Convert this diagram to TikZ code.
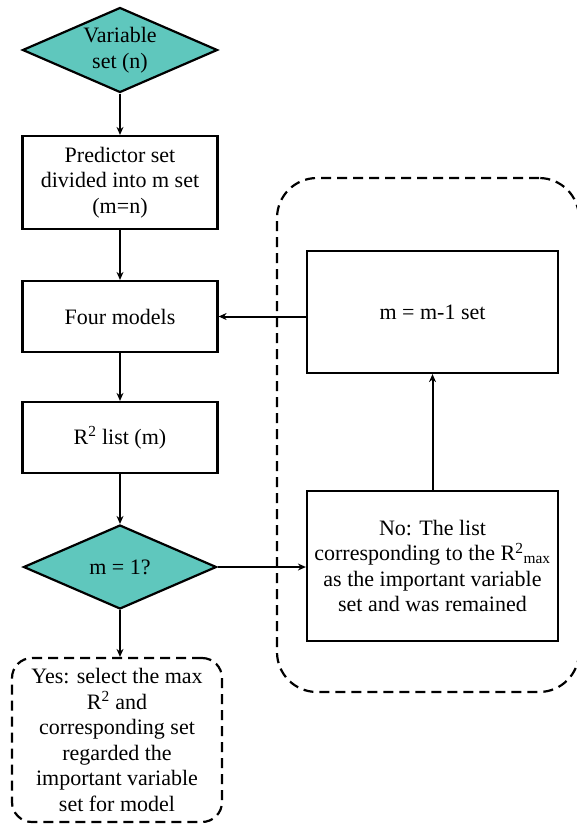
\documentclass[tikz,border=0pt]{standalone}
\usepackage{fontspec}
\setmainfont{Liberation Serif}
\usetikzlibrary{shapes.geometric,arrows.meta}
\definecolor{tealfill}{RGB}{95,199,189}
\begin{document}
\begin{tikzpicture}[x=1pt,y=-1pt,
  every node/.style={font=\fontsize{22pt}{25.5pt}\selectfont},
  box/.style={draw, line width=2.2pt, minimum width=195pt, align=center, inner sep=0pt},
  dia/.style={diamond, draw, fill=tealfill, line width=2.2pt, aspect=2.3, inner sep=0pt, align=center},
  arr/.style={line width=2pt, -{Stealth[length=8pt,width=7pt]}},
  yesbox/.style={draw, line width=2.2pt, dash pattern=on 10pt off 6pt, rounded corners=20pt, align=center, inner sep=0pt},
  grpbox/.style={draw, line width=2.2pt, dash pattern=on 10pt off 6pt, rounded corners=40pt, inner sep=0pt}
]
\useasboundingbox (0,0) rectangle (577,825);
\node[grpbox, minimum width=302pt, minimum height=514pt] (grp) at (428,435) {};
\node[dia, minimum width=195pt, minimum height=85pt] (var) at (120,50) {Variable\\set (n)};
\node[box, minimum height=93pt] (pred) at (120,182.5) {Predictor set\\divided into m set\\(m=n)};
\node[box, minimum height=71pt] (four) at (120,316.5) {Four models};
\node[box, minimum height=71pt] (r2) at (120,437.5) {R\textsuperscript{2} list (m)};
\node[dia, minimum width=193pt, minimum height=84pt] (m1) at (120,567) {m = 1?};
\node[yesbox, minimum width=210pt, minimum height=164pt] (yes) at (117,740) {Yes: select the max\\R\textsuperscript{2} and\\corresponding set\\regarded the\\important variable\\set for model};
\node[box, minimum width=251pt, minimum height=122pt] (mm1) at (432.5,312) {m = m-1 set};
\node[box, minimum width=251pt, minimum height=150pt] (no) at (432.5,566) {No: The list\\corresponding to the R\textsuperscript{2}\textsubscript{max}\\as the important variable\\set and was remained};
\draw[arr] (var.south) -- (pred.north);
\draw[arr] (pred.south) -- (four.north);
\draw[arr] (four.south) -- (r2.north);
\draw[arr] (r2.south) -- (m1.north);
\draw[arr] (m1.south) -- (yes.north -| m1.south);
\draw[arr] (m1.east) -- (no.west |- m1.east);
\draw[arr] (no.north) -- (mm1.south);
\draw[arr] (mm1.west |- four.east) -- (four.east);
\end{tikzpicture}
\end{document}
